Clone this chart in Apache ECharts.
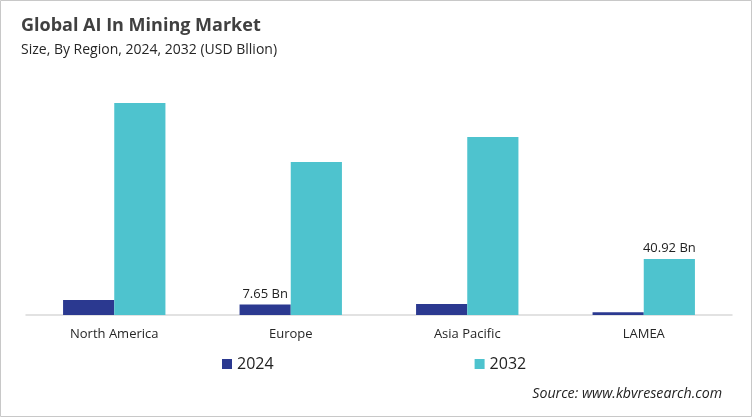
<!DOCTYPE html>
<html><head><meta charset="utf-8">
<script src="https://cdn.jsdelivr.net/npm/echarts@6/dist/echarts.min.js"></script>
<style>html,body{margin:0;padding:0;background:#fff}#c{width:752px;height:417px}</style>
</head><body><div id="c"></div>
<script>
const categories = ['North America', 'Europe', 'Asia Pacific', 'LAMEA'];
const values2024 = [11.0, 7.65, 8.0, 2.0];
const values2032 = [154.9, 111.8, 130.1, 40.92];
const labeled2024 = [1];
const labeled2032 = [3];
const seriesNames = ['2024', '2032'];

const FONT = '"Open Sans", "Noto Sans", sans-serif';
function build(vals, labeled) {
  return vals.map((v, i) => labeled.includes(i)
    ? { value: v, label: { show: true, position: 'top', formatter: v.toFixed(2) + ' Bn', color: '#222', fontSize: 13, fontFamily: FONT, distance: 4 } }
    : v);
}
const chart = echarts.init(document.getElementById('c'));
chart.setOption({
  animation: false,
  title: [
    { text: 'Global AI In Mining Market', left: 16, top: 12, textStyle: { fontFamily: FONT, fontWeight: 'bold', fontSize: 18, color: '#404040' } },
    { text: 'Size, By Region, 2024, 2032 (USD Bllion)', left: 16, top: 38, textStyle: { fontFamily: FONT, fontWeight: 'normal', fontSize: 14, color: '#262626' } },
    { text: 'Source: www.kbvresearch.com', right: 25, top: 382, textStyle: { fontFamily: FONT, fontStyle: 'italic', fontWeight: 'normal', fontSize: 14.2, color: '#222' } }
  ],
  graphic: [{ type: 'rect', shape: { x: 0.5, y: 0.5, width: 751, height: 416 }, style: { fill: 'none', stroke: '#c8c8c8', lineWidth: 1 }, silent: true }],
  legend: {
    left: 217, top: 351, itemWidth: 10, itemHeight: 10, itemGap: 201, icon: 'rect',
    textStyle: { fontFamily: FONT, fontSize: 16, color: '#222' }
  },
  grid: { left: 26, right: 20, top: 96, bottom: 102, containLabel: false },
  xAxis: {
    type: 'category', data: categories,
    axisLine: { lineStyle: { color: '#d9d9d9', width: 1.5 } },
    axisTick: { show: false },
    axisLabel: { fontFamily: FONT, fontSize: 13, color: '#262626', margin: 13 }
  },
  yAxis: { type: 'value', min: 0, max: 160, show: false, splitLine: { show: false } },
  series: [
    { name: seriesNames[0], type: 'bar', data: build(values2024, labeled2024), barGap: '0%', barCategoryGap: '42%', itemStyle: { color: '#2B3990' } },
    { name: seriesNames[1], type: 'bar', data: build(values2032, labeled2032), barGap: '0%', barCategoryGap: '42%', itemStyle: { color: '#4EC3CE' } }
  ]
});
</script></body></html>
